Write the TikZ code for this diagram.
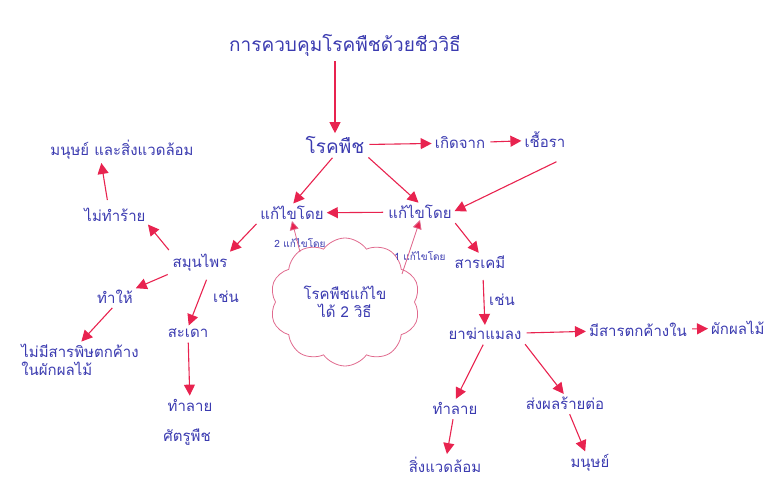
\documentclass[tikz,border=0pt]{standalone}
\usepackage{fontspec}
\newfontfamily\thaifont[Script=Thai]{Loma}
\usetikzlibrary{arrows.meta,shapes.symbols}
\definecolor{ink}{HTML}{3B3BB0}
\definecolor{pen}{HTML}{E8234F}
\definecolor{cloudc}{HTML}{E06A8E}
\tikzset{
  txt/.style={text=ink,font=\thaifont\fontsize{15}{18}\selectfont,inner sep=1pt},
  small/.style={text=ink,font=\thaifont\fontsize{10}{12}\selectfont,inner sep=1pt},
  arr/.style={draw=pen,line width=1.1pt,-{Triangle[length=11pt,width=11pt]},shorten >=2pt,shorten <=4pt},
  ln/.style={draw=cloudc,line width=0.8pt,-{Triangle[length=9pt,width=9pt,fill=pen]}},
}
\begin{document}
\begin{tikzpicture}[x=1pt,y=-1pt]
\useasboundingbox (0,0) rectangle (769,484);
\node[txt,font=\thaifont\fontsize{19}{22}\selectfont] (title) at (345,45) {การควบคุมโรคพืชด้วยชีววิธี};
\node[txt,font=\thaifont\fontsize{19}{22}\selectfont] (rok) at (335,145) {โรคพืช};
\node[txt] (kerd) at (460,143) {เกิดจาก};
\node[txt] (chuera) at (545,140) {เชื้อรา};
\node[txt] (kaeR) at (420,212) {แก้ไขโดย};
\node[txt] (kaeL) at (292,213) {แก้ไขโดย};
\node[txt] (human) at (122,150) {มนุษย์ และสิ่งแวดล้อม};
\node[txt] (maitham) at (115,215) {ไม่ทำร้าย};
\node[txt] (samun) at (200,263) {สมุนไพร};
\node[txt] (thamhai) at (115,297) {ทำให้};
\node[txt,align=left] (nores) at (80,360) {ไม่มีสารพิษตกค้าง\\ในผักผลไม้};
\node[txt] (chenL) at (226,297) {เช่น};
\node[txt] (sadao) at (188,333) {สะเดา};
\node[txt] (tlayL) at (190,405) {ทำลาย};
\node[txt] (pest) at (187,437) {ศัตรูพืช};
\node[cloud,cloud puffs=10,cloud puff arc=110,aspect=1.15,draw=cloudc,line width=0.8pt,
      minimum width=150pt,minimum height=128pt,txt,align=center] (cloud) at (345,302)
      {โรคพืชแก้ไข\\ได้ 2 วิธี};
\node[small] (l2) at (300,243) {2 แก้ไขโดย};
\node[small] (l1) at (420,256) {1 แก้ไขโดย};
\node[txt] (chem) at (480,262) {สารเคมี};
\node[txt] (chenR) at (502,300) {เช่น};
\node[txt] (insect) at (485,334) {ยาฆ่าแมลง};
\node[txt] (residue) at (638,330) {มีสารตกค้างใน};
\node[txt,anchor=west] (fruit) at (710,328) {ผักผลไม้};
\node[txt] (tlayR) at (455,408) {ทำลาย};
\node[txt] (env) at (445,465) {สิ่งแวดล้อม};
\node[txt] (effect) at (565,403) {ส่งผลร้ายต่อ};
\node[txt] (man) at (590,463) {มนุษย์};
\coordinate (c1) at (560,160);
\coordinate (c2) at (208,276);
\coordinate (c4) at (483,276);
\coordinate (c5) at (108,204);
\coordinate (c6) at (101,161);
\coordinate (cl2) at (300,252);
\coordinate (cl1) at (402,274);
% connectors
\draw[arr] (title.south -| rok.north) -- (rok.north);
\draw[arr] (rok) -- (kerd);
\draw[arr] (kerd) -- (chuera);
\draw[arr] (c1) -- (kaeR.east);
\draw[arr] (rok.south east) -- (kaeR.north);
\draw[arr] (rok.south) -- (kaeL.north);
\draw[arr] (kaeR) -- (kaeL);
\draw[arr] (kaeL.south west) -- (samun.north east);
\draw[arr] (samun.north west) -- (maitham.south east);
\draw[arr] (c5) -- (c6);
\draw[arr] (samun.south west) -- (thamhai.north east);
\draw[arr] (thamhai.south) -- (nores.north);
\draw[arr] (c2) -- (sadao.north);
\draw[arr] (sadao) -- (tlayL);
\draw[ln] (cl2) -- (kaeL.south);
\draw[ln] (cl1) -- (kaeR.south);
\draw[arr] (kaeR.south east) -- (chem.north);
\draw[arr] (c4) -- (insect.north);
\draw[arr] (insect) -- (residue);
\draw[arr] (residue) -- (fruit);
\draw[arr] (insect.south) -- (tlayR.north);
\draw[arr] (insect.south east) -- (effect.north);
\draw[arr] (tlayR) -- (env);
\draw[arr] (effect) -- (man);
\end{tikzpicture}
\end{document}
